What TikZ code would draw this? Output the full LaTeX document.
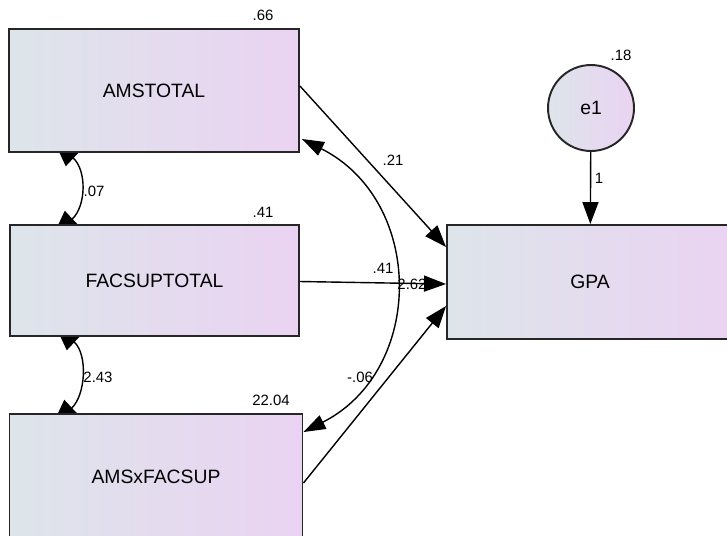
\documentclass[tikz,border=0pt]{standalone}
\usepackage{fontspec}
\setmainfont{Liberation Sans}
\usepackage{tikz}
\usetikzlibrary{arrows,arrows.meta,shapes,backgrounds}
\definecolor{boxleft}{RGB}{221,229,234}
\definecolor{boxright}{RGB}{234,211,242}

\begin{document}
\begin{tikzpicture}[x=0.02cm, y=-0.02cm,
    varbox/.style={rectangle, draw=black!85, line width=1.1pt, left color=boxleft, right color=boxright, font=\fontsize{11}{13}\selectfont, inner sep=0pt},
    errnode/.style={circle, draw=black!85, line width=1.1pt, left color=boxleft, right color=boxright, font=\fontsize{11}{13}\selectfont, minimum size=1.72cm, inner sep=0pt},
    numlabel/.style={font=\fontsize{8.5}{10}\selectfont, inner sep=0pt},
    regarrow/.style={line width=0.8pt, -{Triangle[length=4.4mm, width=3.2mm]}},
    cov/.style={line width=0.8pt, {Triangle[length=4.4mm, width=3mm]}-{Triangle[length=4.4mm, width=3mm]}},
    halfcov/.style={line width=0.8pt, {Triangle[length=5.6mm, width=4.4mm]}-{Triangle[length=5.6mm, width=4.4mm]}}]

    \useasboundingbox (0,0) rectangle (727,535);

    % observed variables
    \node[varbox, minimum width=5.8cm, minimum height=2.46cm](ams) at (154,90.5) {AMSTOTAL};
    \node[varbox, minimum width=5.78cm, minimum height=2.22cm](fac) at (154.5,280.5) {FACSUPTOTAL};
    \node[varbox, minimum width=5.86cm, minimum height=2.52cm](amsfac) at (156,477) {AMSxFACSUP};
    \node[varbox, minimum width=5.72cm, minimum height=2.28cm](gpa) at (590,282) {GPA};
    \node[errnode](e1) at (591,108) {e1};

    % variances
    \node[numlabel](v1) at (263,15) {.66};
    \node[numlabel](v2) at (263,212) {.41};
    \node[numlabel](v3) at (271,400) {22.04};
    \node[numlabel](v4) at (621,55) {.18};

    % covariances (heads partly hidden behind the boxes)
    \begin{pgfonlayer}{background}
        \draw[halfcov] ([xshift=0.9cm, yshift=0.28cm]ams.south west) .. controls +(34,32) and +(34,-32) .. ([xshift=0.86cm, yshift=-0.28cm]fac.north west);
        \draw[halfcov] ([xshift=0.9cm, yshift=0.28cm]fac.south west) .. controls +(34,32) and +(34,-32) .. ([xshift=0.86cm, yshift=-0.28cm]amsfac.north west);
    \end{pgfonlayer}
    \draw[cov] ([xshift=0.04cm, yshift=0.28cm]ams.south east) .. controls +(123,62) and +(122,-62) .. ([yshift=-0.38cm]amsfac.north east);

    % regression weights
    \draw[regarrow] ([yshift=0.09cm]ams.east) -- ([yshift=0.7cm]gpa.west);
    \draw[regarrow] ([yshift=-0.02cm]fac.east) -- ([yshift=-0.04cm]gpa.west);
    \draw[regarrow] ([yshift=-1.4cm]amsfac.north east) -- ([yshift=-0.48cm]gpa.west);
    \draw[regarrow] (e1) -- (gpa);

    % estimates
    \node[numlabel](c1) at (94,191) {.07};
    \node[numlabel](c2) at (98,377) {2.43};
    \node[numlabel](c3) at (383,268) {.41};
    \node[numlabel](c4) at (360,377) {-.06};
    \node[numlabel](w1) at (393,160) {.21};
    \node[numlabel](w2) at (412,284) {2.62};
    \node[numlabel](w3) at (599,178) {1};

\end{tikzpicture}
\end{document}
